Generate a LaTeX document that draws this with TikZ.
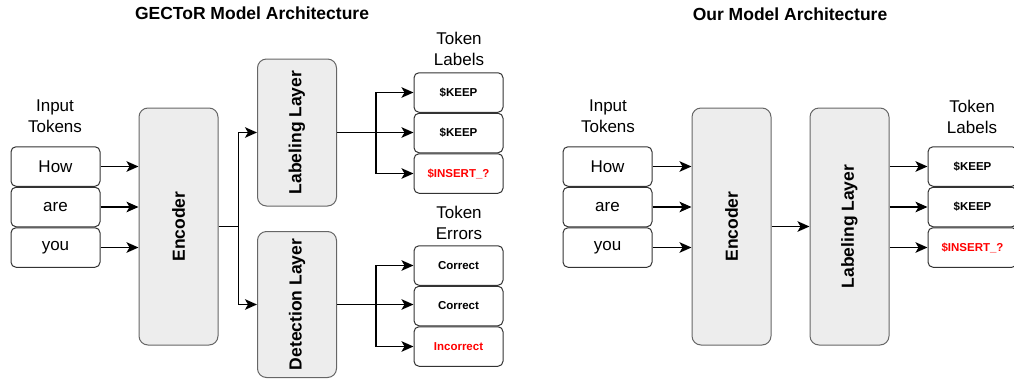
\documentclass[tikz,border=0pt]{standalone}
\usepackage{fontspec}
\setmainfont{Liberation Sans}
\usetikzlibrary{arrows.meta,positioning}

\begin{document}
\begin{tikzpicture}[x=1pt, y=-1pt, line width=1.7pt, >={Stealth[length=12pt,width=10.5pt,inset=3pt]},
    title/.style = {font=\fontsize{17.5}{21}\selectfont\bfseries},
    head/.style = {align=center, font=\fontsize{17}{21}\selectfont},
    tok/.style = {draw=black!80, line width=1pt, rounded corners=5pt, minimum width=89pt, minimum height=39.5pt, inner sep=0pt, font=\fontsize{17}{20}\selectfont},
    tag/.style = {tok, font=\fontsize{11.5}{14}\selectfont\bfseries},
    layer/.style = {draw=black!60, fill=black!7, line width=1pt, rounded corners=9pt, minimum width=79pt, inner sep=0pt, font=\fontsize{17.5}{21}\selectfont\bfseries}]
    \useasboundingbox (0,0) rectangle (1014,378);
    % GECToR side
    \node[title] (t1) at (252,13) {GECToR Model Architecture};
    \node[head] (in1) at (55,116.5) {Input\\Tokens};
    \node[tok] (1) at (55.5,166.5) {How};
    \node[tok] (2) [below=0pt of 1] {are};
    \node[tok] (3) [below=0pt of 2] {you};
    \node[layer, minimum height=237pt] (enc) at (178.5,226.5) {\rotatebox{90}{Encoder}};
    \node[layer, minimum height=147pt] (lab) at (297,132.5) {\rotatebox{90}{Labeling Layer}};
    \node[layer, minimum height=146pt] (det) at (297,304.5) {\rotatebox{90}{Detection Layer}};
    \node[head] (tl1) at (459,49) {Token\\Labels};
    \node[tag] (k1) at (458.5,92.5) {\$KEEP};
    \node[tag] (k2) [below=0pt of k1] {\$KEEP};
    \node[tag, text=red] (k3) [below=0pt of k2] {\$INSERT\_?};
    \node[head] (te1) at (459,222.5) {Token\\Errors};
    \node[tag] (c1) at (458.5,265.5) {Correct};
    \node[tag] (c2) [below=0pt of c1] {Correct};
    \node[tag, text=red] (c3) [below=0pt of c2] {Incorrect};
    \draw[->] (1) -- (1 -| enc.west);
    \draw[->] (2) -- (2 -| enc.west);
    \draw[->] (3) -- (3 -| enc.west);
    \draw[->] (enc.east) -- ++(20,0) |- (lab);
    \draw[->] (enc.east) -- ++(20,0) |- (det);
    \draw[->] (lab.east) -- ++(39,0) |- (k1);
    \draw[->] (lab.east) -- (lab.east -| k2.west);
    \draw[->] (lab.east) -- ++(39,0) |- (k3);
    \draw[->] (det.east) -- ++(39,0) |- (c1);
    \draw[->] (det.east) -- (det.east -| c2.west);
    \draw[->] (det.east) -- ++(39,0) |- (c3);
    % our side
    \node[title] (t2) at (790,14) {Our Model Architecture};
    \node[head] (in2) at (608,116.5) {Input\\Tokens};
    \node[tok] (4) at (607.5,166.5) {How};
    \node[tok] (5) [below=0pt of 4] {are};
    \node[tok] (6) [below=0pt of 5] {you};
    \node[layer, minimum height=237pt] (enc2) at (731.5,226.5) {\rotatebox{90}{Encoder}};
    \node[layer, minimum height=237pt] (lab2) at (849.5,226.5) {\rotatebox{90}{Labeling Layer}};
    \node[head] (tl2) at (972,116.5) {Token\\Labels};
    \node[tag] (k4) at (972.5,166.5) {\$KEEP};
    \node[tag] (k5) [below=0pt of k4] {\$KEEP};
    \node[tag, text=red] (k6) [below=0pt of k5] {\$INSERT\_?};
    \draw[->] (4) -- (4 -| enc2.west);
    \draw[->] (5) -- (5 -| enc2.west);
    \draw[->] (6) -- (6 -| enc2.west);
    \draw[->] (enc2) -- (lab2);
    \draw[->] (k4 -| lab2.east) -- (k4);
    \draw[->] (k5 -| lab2.east) -- (k5);
    \draw[->] (k6 -| lab2.east) -- (k6);
\end{tikzpicture}
\end{document}
